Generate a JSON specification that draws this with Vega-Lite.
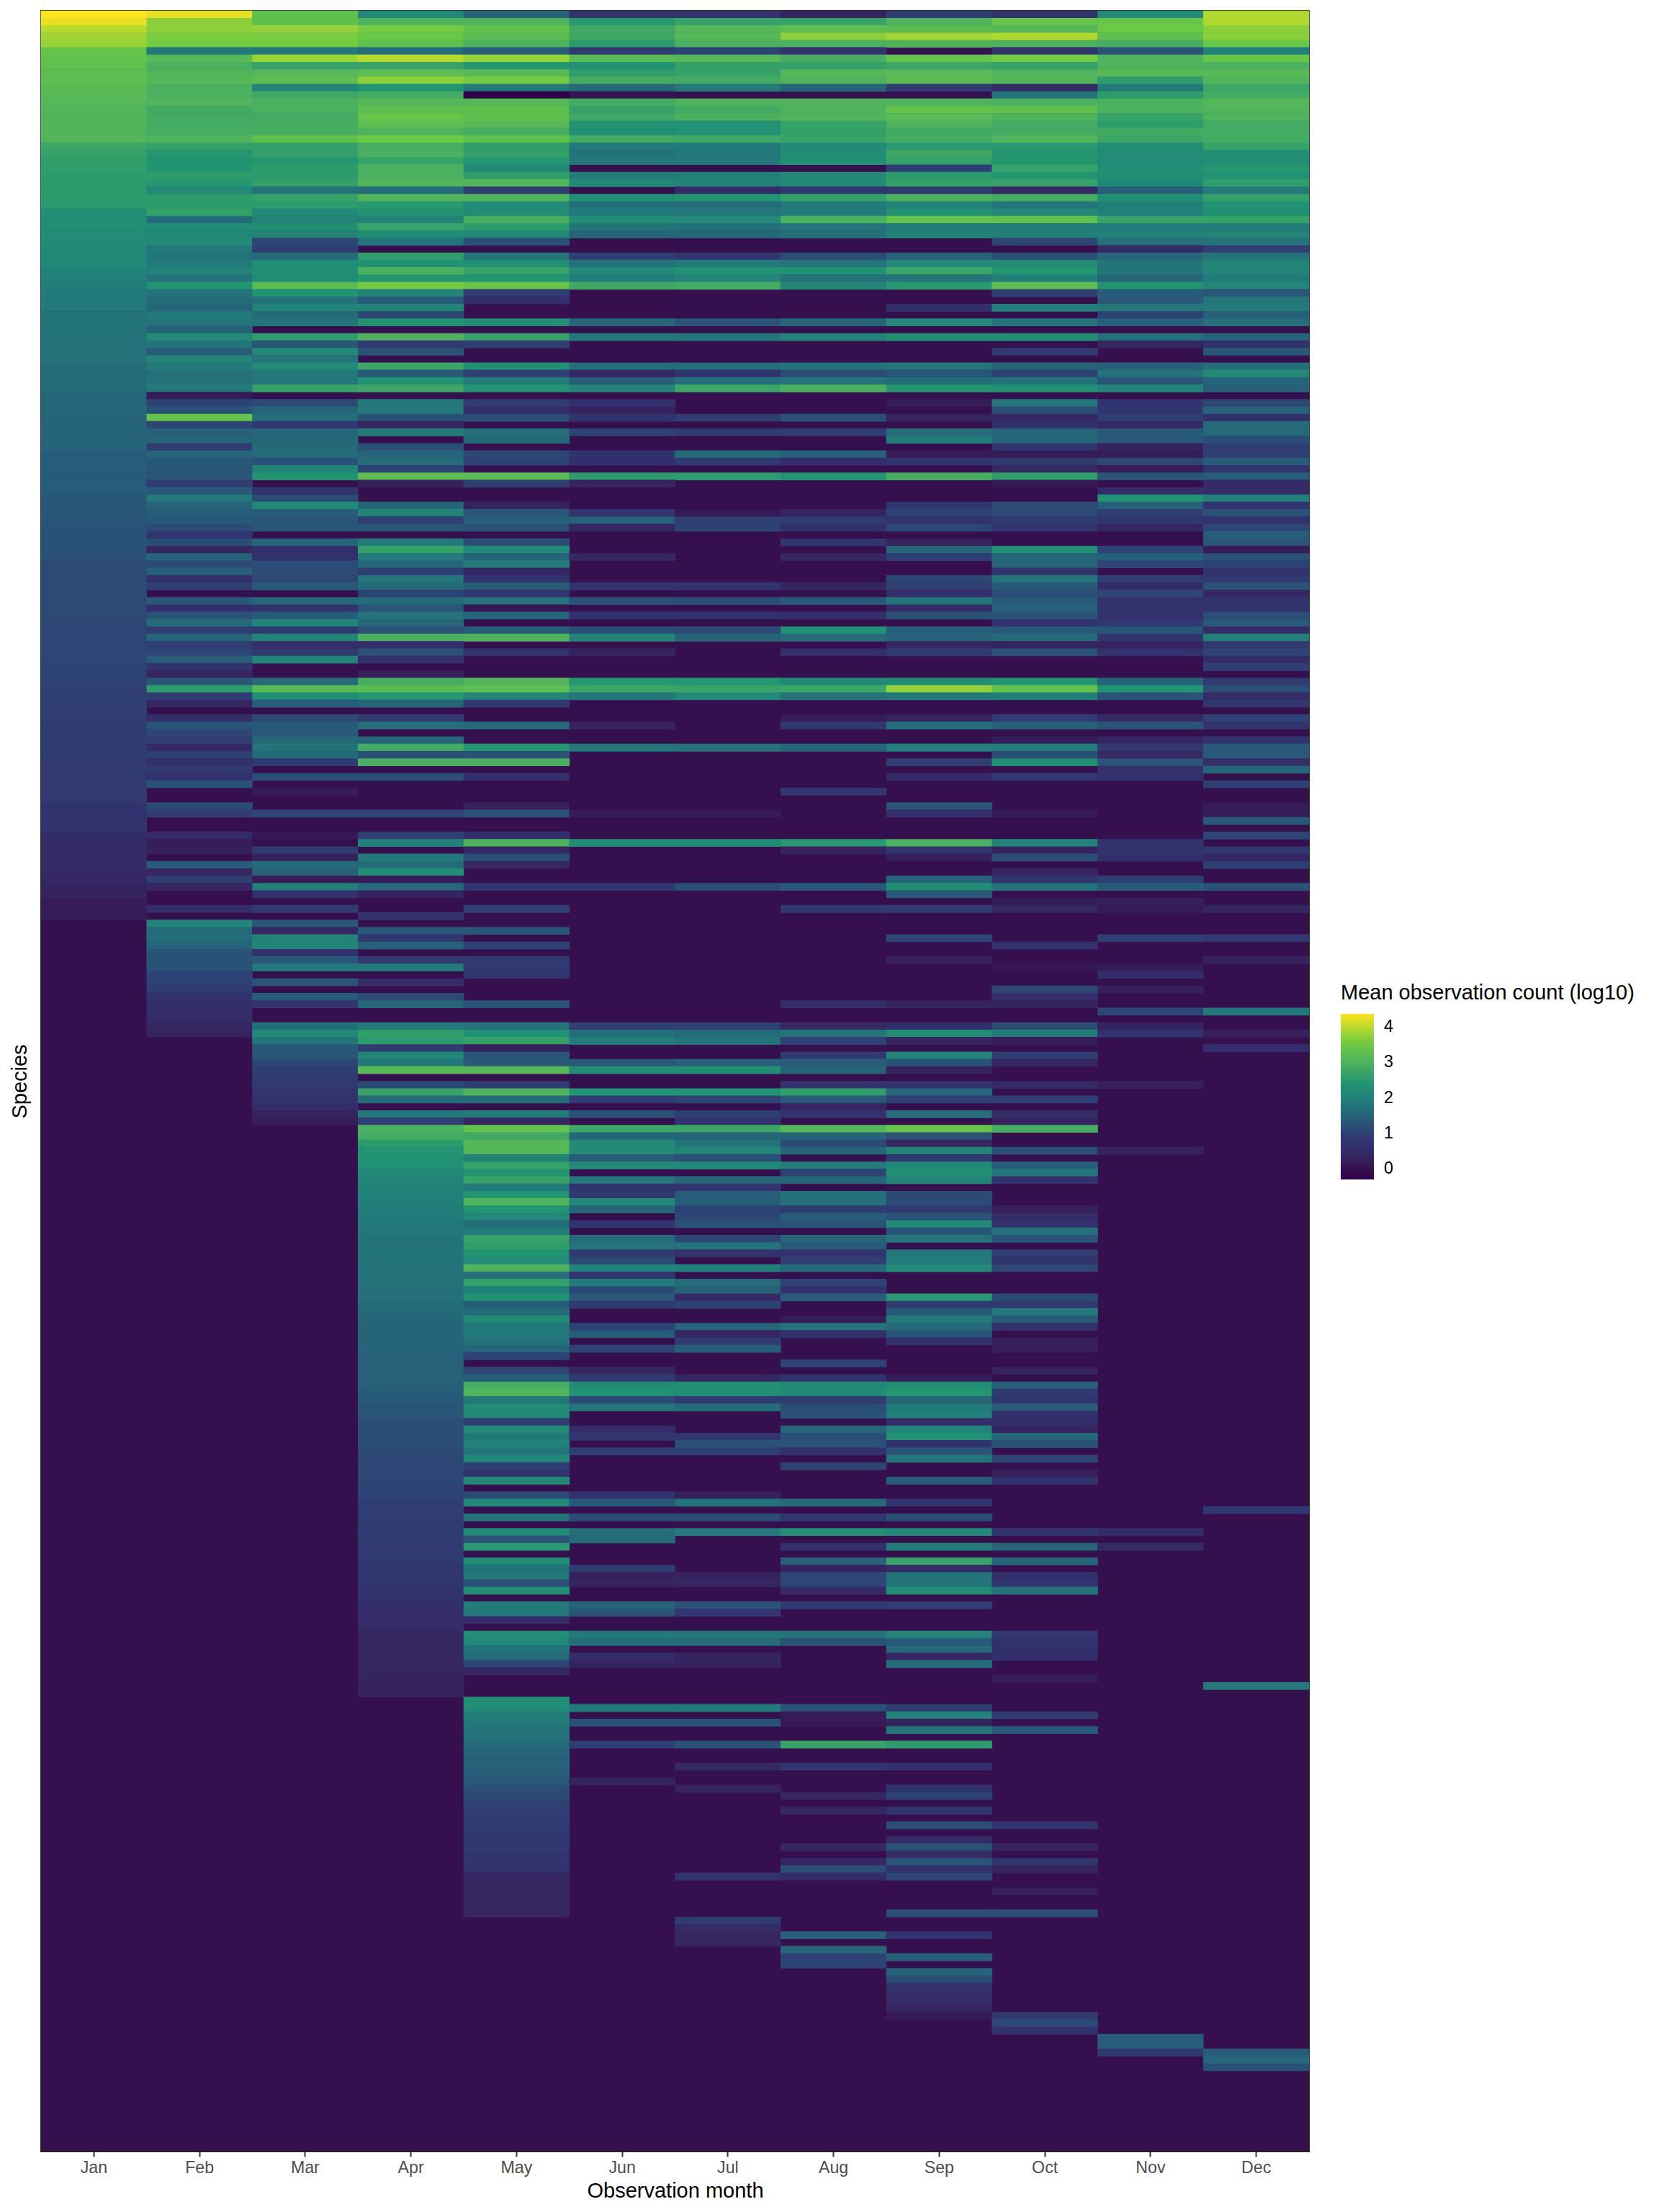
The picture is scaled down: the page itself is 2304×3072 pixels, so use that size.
{"$schema":"https://vega.github.io/schema/vega-lite/v6.json","autosize":{"type":"none"},"width":1761,"height":2973,"padding":{"left":57,"top":15,"right":486,"bottom":84},"background":"white","config":{"font":"Liberation Sans","view":{"fill":"#36104e","stroke":"#222222","strokeWidth":2}},
"data":{"values":[
{"s":1,"Jan":4.37,"Feb":4.25,"Mar":3.3,"Apr":2.15,"May":1.5,"Jun":0.75,"Jul":0.7,"Aug":0.3,"Sep":0.95,"Oct":0.7,"Nov":2.2,"Dec":3.95},
{"s":2,"Jan":4.25,"Feb":3.7,"Mar":3.3,"Apr":3.0,"May":3.0,"Jun":2.5,"Jul":2.7,"Aug":2.7,"Sep":3.0,"Oct":3.4,"Nov":3.4,"Dec":3.95},
{"s":3,"Jan":4.0,"Feb":3.7,"Mar":3.75,"Apr":3.55,"May":3.35,"Jun":2.8,"Jul":3.1,"Aug":3.25,"Sep":3.2,"Oct":3.1,"Nov":3.5,"Dec":3.7},
{"s":4,"Jan":3.85,"Feb":3.6,"Mar":3.6,"Apr":3.45,"May":3.2,"Jun":2.8,"Jul":3.1,"Aug":3.7,"Sep":3.85,"Oct":3.95,"Nov":3.25,"Dec":3.7},
{"s":5,"Jan":3.8,"Feb":3.55,"Mar":3.55,"Apr":3.3,"May":3.0,"Jun":2.55,"Jul":2.95,"Aug":2.95,"Sep":3.0,"Oct":3.0,"Nov":2.9,"Dec":3.45},
{"s":6,"Jan":3.4,"Feb":1.85,"Mar":1.85,"Apr":1.65,"May":1.4,"Jun":0.85,"Jul":1.05,"Aug":0.7,"Oct":0.7,"Nov":1.25,"Dec":2.0},
{"s":7,"Jan":3.35,"Feb":3.15,"Mar":3.8,"Apr":4.0,"May":3.75,"Jun":3.2,"Jul":3.1,"Aug":2.9,"Sep":3.35,"Oct":3.55,"Nov":3.0,"Dec":3.4},
{"s":8,"Jan":3.3,"Feb":2.95,"Mar":2.7,"Apr":2.7,"May":2.45,"Jun":2.35,"Jul":2.65,"Aug":2.65,"Sep":2.75,"Oct":2.7,"Nov":3.0,"Dec":2.95},
{"s":9,"Jan":3.25,"Feb":3.05,"Mar":3.1,"Apr":3.25,"May":3.15,"Jun":2.6,"Jul":2.7,"Aug":3.1,"Sep":3.15,"Oct":3.05,"Nov":3.15,"Dec":3.15},
{"s":10,"Jan":3.25,"Feb":3.1,"Mar":3.25,"Apr":3.7,"May":3.55,"Jun":2.85,"Jul":2.85,"Aug":3.0,"Sep":3.2,"Oct":3.05,"Nov":2.6,"Dec":3.05},
{"s":11,"Jan":3.2,"Feb":2.95,"Mar":2.05,"Apr":2.4,"May":1.9,"Jun":1.6,"Jul":1.9,"Aug":1.5,"Sep":0.9,"Oct":0.5,"Nov":1.85,"Dec":2.75},
{"s":12,"Jan":3.15,"Feb":2.95,"Mar":2.8,"Apr":2.85,"May":-0.3,"Jun":0.05,"Oct":1.8,"Nov":2.55,"Dec":2.85},
{"s":13,"Jan":3.1,"Feb":3.05,"Mar":2.95,"Apr":3.1,"May":3.1,"Jun":2.85,"Jul":3.0,"Aug":3.0,"Sep":3.0,"Oct":2.95,"Nov":2.95,"Dec":3.1},
{"s":14,"Jan":3.05,"Feb":2.85,"Mar":2.95,"Apr":3.25,"May":3.3,"Jun":2.65,"Jul":2.85,"Aug":3.0,"Sep":3.35,"Oct":3.3,"Nov":2.95,"Dec":3.05},
{"s":15,"Jan":3.05,"Feb":2.85,"Mar":2.85,"Apr":3.4,"May":3.3,"Jun":2.8,"Jul":2.95,"Aug":3.05,"Sep":3.15,"Oct":3.0,"Nov":2.7,"Dec":3.0},
{"s":16,"Jan":3.05,"Feb":2.85,"Mar":2.9,"Apr":3.25,"May":3.15,"Jun":2.4,"Jul":2.35,"Aug":2.7,"Sep":3.0,"Oct":2.85,"Nov":2.55,"Dec":2.85},
{"s":17,"Jan":3.05,"Feb":2.9,"Mar":2.9,"Apr":3.0,"May":2.9,"Jun":2.3,"Jul":2.35,"Aug":2.65,"Sep":2.85,"Oct":2.85,"Nov":2.85,"Dec":2.85},
{"s":18,"Jan":3.05,"Feb":3.0,"Mar":3.3,"Apr":3.5,"May":3.3,"Jun":2.85,"Jul":2.8,"Aug":2.7,"Sep":2.85,"Oct":3.05,"Nov":2.75,"Dec":2.85},
{"s":19,"Jan":2.75,"Feb":2.65,"Mar":2.65,"Apr":2.9,"May":2.6,"Jun":1.9,"Jul":1.9,"Aug":2.2,"Sep":2.5,"Oct":2.5,"Nov":2.3,"Dec":2.7},
{"s":20,"Jan":2.7,"Feb":2.45,"Mar":2.65,"Apr":2.95,"May":2.65,"Jun":1.75,"Jul":1.9,"Aug":2.3,"Sep":2.8,"Oct":2.45,"Nov":2.25,"Dec":2.3},
{"s":21,"Jan":2.6,"Feb":2.4,"Mar":2.45,"Apr":2.7,"May":2.45,"Jun":1.85,"Jul":1.85,"Aug":2.3,"Sep":2.65,"Oct":2.45,"Nov":2.2,"Dec":2.25},
{"s":22,"Jan":2.6,"Feb":2.4,"Mar":2.55,"Apr":2.95,"May":2.2,"Sep":1.0,"Oct":2.7,"Nov":2.3,"Dec":2.45},
{"s":23,"Jan":2.55,"Feb":2.6,"Mar":2.55,"Apr":2.95,"May":2.6,"Jun":1.95,"Jul":2.0,"Aug":2.2,"Sep":2.55,"Oct":2.45,"Nov":2.3,"Dec":2.35},
{"s":24,"Jan":2.55,"Feb":2.45,"Mar":2.65,"Apr":3.05,"May":3.05,"Jun":2.15,"Jul":2.05,"Aug":2.2,"Sep":2.65,"Oct":2.7,"Nov":2.15,"Dec":2.6},
{"s":25,"Jan":2.55,"Feb":2.15,"Mar":1.75,"Apr":1.65,"May":0.95,"Jul":0.5,"Aug":0.8,"Sep":0.85,"Oct":0.4,"Nov":1.4,"Dec":1.9},
{"s":26,"Jan":2.55,"Feb":2.55,"Mar":2.7,"Apr":3.05,"May":3.0,"Jun":2.3,"Jul":2.4,"Aug":2.65,"Sep":2.95,"Oct":2.85,"Nov":2.3,"Dec":2.65},
{"s":27,"Jan":2.5,"Feb":2.55,"Mar":2.55,"Apr":2.5,"May":2.2,"Jun":1.7,"Jul":1.65,"Aug":1.85,"Sep":2.05,"Oct":1.8,"Nov":2.0,"Dec":2.35},
{"s":28,"Jan":2.3,"Feb":2.65,"Mar":2.2,"Apr":2.35,"May":2.2,"Jun":1.9,"Jul":1.85,"Aug":1.9,"Sep":2.35,"Oct":2.15,"Nov":2.0,"Dec":2.3},
{"s":29,"Jan":2.3,"Feb":1.65,"Mar":2.1,"Apr":2.05,"May":2.9,"Jun":2.25,"Jul":2.2,"Aug":2.95,"Sep":3.35,"Oct":3.3,"Nov":2.7,"Dec":2.65},
{"s":30,"Jan":2.25,"Feb":2.25,"Mar":2.3,"Apr":2.7,"May":2.55,"Jun":1.8,"Jul":1.7,"Aug":1.8,"Sep":1.95,"Oct":1.95,"Nov":1.9,"Dec":1.95},
{"s":31,"Jan":2.25,"Feb":2.15,"Mar":2.1,"Apr":2.25,"May":2.15,"Jun":1.5,"Jul":1.55,"Aug":1.7,"Sep":2.05,"Oct":2.0,"Nov":2.05,"Dec":2.1},
{"s":32,"Jan":2.2,"Feb":2.2,"Mar":1.1,"Apr":1.8,"May":1.25,"Oct":1.1,"Nov":1.7,"Dec":1.8},
{"s":33,"Jan":2.2,"Feb":1.85,"Mar":1.0,"Nov":0.5,"Dec":1.0},
{"s":34,"Jan":2.15,"Feb":1.8,"Mar":1.65,"Apr":2.6,"May":1.8,"Jun":1.0,"Jul":0.8,"Aug":1.2,"Sep":1.45,"Oct":1.25,"Nov":1.55,"Dec":1.75},
{"s":35,"Jan":2.15,"Feb":1.9,"Mar":2.3,"Apr":2.35,"May":2.3,"Jun":1.75,"Jul":1.85,"Aug":1.75,"Sep":2.15,"Oct":2.2,"Nov":1.8,"Dec":2.05},
{"s":36,"Jan":2.05,"Feb":2.05,"Mar":2.3,"Apr":2.95,"May":2.7,"Jun":2.15,"Jul":2.35,"Aug":2.35,"Sep":2.75,"Oct":2.45,"Nov":1.8,"Dec":2.1},
{"s":37,"Jan":2.0,"Feb":1.8,"Mar":2.25,"Apr":2.45,"May":2.4,"Jun":1.95,"Jul":2.1,"Aug":1.75,"Sep":1.8,"Oct":2.0,"Nov":1.55,"Dec":1.95},
{"s":38,"Jan":1.95,"Feb":2.4,"Mar":3.2,"Apr":3.55,"May":3.4,"Jun":2.8,"Jul":2.85,"Aug":2.1,"Sep":2.5,"Oct":3.25,"Nov":2.4,"Dec":2.1},
{"s":39,"Jan":1.9,"Feb":1.75,"Mar":2.35,"Apr":2.05,"May":0.95,"Oct":1.0,"Nov":1.4,"Dec":1.3},
{"s":40,"Jan":1.85,"Feb":1.6,"Mar":1.75,"Apr":1.35,"May":0.6,"Nov":1.35,"Dec":1.8},
{"s":41,"Jan":1.85,"Feb":1.5,"Mar":2.05,"Apr":2.05,"Sep":0.65,"Oct":2.0,"Nov":1.85,"Dec":1.9},
{"s":42,"Jan":1.8,"Feb":1.9,"Mar":1.6,"Apr":1.1,"Nov":1.05,"Dec":1.45},
{"s":43,"Jan":1.8,"Feb":1.8,"Mar":1.8,"Apr":2.4,"May":2.25,"Jun":1.55,"Jul":1.3,"Aug":1.55,"Sep":2.15,"Oct":1.8,"Nov":1.45,"Dec":1.7},
{"s":44,"Jan":1.8,"Feb":1.45},
{"s":45,"Jan":1.75,"Feb":2.2,"Mar":2.6,"Apr":3.0,"May":2.7,"Jun":1.85,"Jul":1.8,"Aug":2.05,"Sep":2.3,"Oct":2.3,"Nov":1.75,"Dec":1.5},
{"s":46,"Jan":1.75,"Feb":1.8,"Mar":1.3,"Apr":0.9,"May":0.95,"Nov":0.35,"Dec":0.7},
{"s":47,"Jan":1.75,"Feb":1.4,"Mar":2.15,"Apr":1.25,"Oct":0.85,"Dec":1.3},
{"s":48,"Jan":1.75,"Feb":2.1,"Mar":1.75},
{"s":49,"Jan":1.65,"Feb":1.85,"Mar":2.2,"Apr":2.75,"May":2.3,"Jun":1.7,"Jul":1.7,"Aug":1.75,"Sep":1.8,"Oct":1.55,"Nov":1.45,"Dec":1.7},
{"s":50,"Jan":1.65,"Feb":1.7,"Mar":1.85,"Apr":1.35,"May":1.0,"Jun":0.4,"Jul":0.75,"Aug":1.15,"Sep":1.3,"Oct":1.05,"Nov":1.75,"Dec":2.2},
{"s":51,"Jan":1.65,"Feb":1.75,"Mar":1.85,"Apr":2.35,"May":1.95,"Jun":1.4,"Jul":1.7,"Aug":1.75,"Sep":1.65,"Oct":1.75,"Nov":1.3,"Dec":1.5},
{"s":52,"Jan":1.65,"Feb":1.9,"Mar":2.7,"Apr":2.75,"May":2.4,"Jun":2.1,"Jul":2.75,"Aug":2.95,"Sep":2.45,"Oct":2.35,"Nov":2.1,"Dec":1.45},
{"s":53,"Jan":1.55,"Feb":0.2},
{"s":54,"Jan":1.55,"Feb":1.05,"Mar":1.15,"Apr":1.85,"May":0.95,"Jun":0.65,"Sep":0.2,"Oct":1.8,"Nov":0.75,"Dec":1.1},
{"s":55,"Jan":1.55,"Feb":1.25,"Mar":1.55,"Apr":1.85,"May":0.55,"Jun":0.3,"Oct":1.2,"Nov":0.8,"Dec":1.5},
{"s":56,"Jan":1.5,"Feb":3.4,"Mar":1.7,"Apr":1.25,"May":1.2,"Jun":0.7,"Jul":0.95,"Aug":1.25,"Sep":0.3,"Oct":0.4,"Nov":1.0,"Dec":0.6},
{"s":57,"Jan":1.5,"Feb":1.1,"Mar":0.8,"Apr":0.4,"Oct":0.65,"Nov":0.45,"Dec":1.6},
{"s":58,"Jan":1.5,"Feb":1.45,"Mar":1.55,"Apr":1.95,"May":1.7,"Jun":1.05,"Jul":0.9,"Aug":0.95,"Sep":1.65,"Oct":1.55,"Nov":1.35,"Dec":1.6},
{"s":59,"Jan":1.5,"Feb":1.5,"Mar":1.55,"May":1.6,"Sep":1.95,"Oct":1.55,"Nov":1.35,"Dec":1.2},
{"s":60,"Jan":1.5,"Feb":0.95,"Mar":1.6,"Apr":1.2,"Oct":0.8,"Nov":0.3,"Dec":0.95},
{"s":61,"Jan":1.4,"Feb":1.5,"Mar":1.65,"Apr":1.5,"May":1.1,"Jun":0.7,"Jul":1.65,"Aug":1.45,"Sep":0.2,"Oct":0.2,"Nov":0.2,"Dec":1.0},
{"s":62,"Jan":1.4,"Feb":1.35,"Mar":1.25,"Apr":1.65,"May":1.05,"Jun":0.6,"Jul":0.85,"Aug":0.55,"Sep":0.8,"Oct":0.85,"Nov":1.1,"Dec":1.4},
{"s":63,"Jan":1.4,"Feb":1.3,"Mar":2.1,"Apr":1.05,"Oct":0.45,"Nov":0.2,"Dec":0.75},
{"s":64,"Jan":1.4,"Feb":1.3,"Mar":2.4,"Apr":3.25,"May":3.2,"Jun":2.55,"Jul":2.55,"Aug":2.4,"Sep":2.9,"Oct":2.6,"Nov":1.3,"Dec":1.4},
{"s":65,"Jan":1.4,"Feb":0.95,"Apr":0.25,"May":1.0,"Jun":0.3,"Oct":0.15,"Dec":0.45},
{"s":66,"Jan":1.4,"Feb":1.35,"Mar":0.7,"Nov":0.5,"Dec":0.55},
{"s":67,"Jan":1.3,"Feb":1.85,"Mar":1.15,"Nov":2.35,"Dec":2.0},
{"s":68,"Jan":1.3,"Feb":1.5,"Mar":2.2,"Apr":1.55,"May":0.3,"Sep":0.75,"Oct":1.15,"Nov":1.45,"Dec":0.7},
{"s":69,"Jan":1.3,"Feb":1.4,"Mar":1.4,"Apr":2.1,"May":1.3,"Jun":0.75,"Jul":0.15,"Aug":0.3,"Sep":1.05,"Oct":1.15,"Nov":0.95,"Dec":1.25},
{"s":70,"Jan":1.3,"Feb":1.35,"Mar":1.3,"Apr":1.0,"May":1.45,"Jun":1.45,"Jul":1.0,"Aug":0.9,"Sep":0.7,"Oct":0.9,"Nov":0.85,"Dec":0.7},
{"s":71,"Jan":1.25,"Feb":1.15,"Mar":1.3,"Apr":1.3,"May":1.25,"Jun":0.4,"Jul":1.05,"Aug":0.65,"Sep":1.1,"Oct":0.75,"Nov":0.35,"Dec":1.1},
{"s":72,"Jan":1.25,"Feb":0.8,"Dec":1.4},
{"s":73,"Jan":1.25,"Feb":1.2,"Mar":1.55,"Apr":1.95,"May":1.2,"Aug":0.8,"Sep":0.3,"Dec":1.3},
{"s":74,"Jan":1.25,"Feb":0.4,"Mar":0.6,"Apr":2.65,"May":2.15,"Sep":1.5,"Oct":2.3,"Nov":1.05,"Dec":0.2},
{"s":75,"Jan":1.25,"Feb":1.5,"Mar":0.65,"Apr":1.9,"May":1.5,"Jun":0.4,"Aug":0.35,"Sep":1.0,"Oct":1.55,"Nov":1.45,"Dec":1.25},
{"s":76,"Jan":1.15,"Feb":1.15,"Mar":1.2,"Apr":1.55,"May":1.95,"Oct":1.5,"Nov":1.1,"Dec":1.05},
{"s":77,"Jan":1.15,"Feb":1.45,"Mar":1.15,"Apr":0.95,"May":0.4,"Oct":0.75,"Dec":0.7},
{"s":78,"Jan":1.15,"Feb":0.6,"Mar":1.1,"Apr":1.8,"May":0.75,"Sep":1.1,"Oct":1.8,"Nov":1.0,"Dec":0.85},
{"s":79,"Jan":1.15,"Feb":1.0,"Mar":1.35,"Apr":1.65,"May":1.4,"Jun":0.7,"Jul":0.7,"Aug":0.35,"Sep":1.0,"Oct":1.35,"Nov":0.55,"Dec":1.25},
{"s":80,"Jan":1.15,"Apr":1.05,"May":0.8,"Sep":0.6,"Oct":1.2,"Nov":1.1,"Dec":0.4},
{"s":81,"Jan":1.15,"Feb":1.35,"Mar":1.55,"Apr":1.6,"May":1.75,"Jun":1.25,"Jul":1.2,"Aug":1.35,"Sep":1.8,"Oct":1.35,"Nov":0.7,"Dec":0.75},
{"s":82,"Jan":1.15,"Feb":0.6,"Mar":0.7,"Apr":1.3,"May":0.1,"Sep":0.55,"Oct":1.45,"Nov":0.7,"Dec":0.7},
{"s":83,"Jan":1.15,"Feb":1.25,"Mar":1.35,"Apr":1.75,"May":1.5,"Jun":0.7,"Jul":0.7,"Aug":0.6,"Sep":1.25,"Oct":1.25,"Nov":0.7,"Dec":1.2},
{"s":84,"Jan":1.1,"Feb":1.6,"Mar":2.1,"Apr":1.55,"Oct":0.7,"Nov":0.85,"Dec":1.35},
{"s":85,"Jan":1.1,"Feb":0.95,"Mar":0.85,"Apr":1.25,"May":1.4,"Jun":1.2,"Jul":1.15,"Aug":2.35,"Sep":1.45,"Oct":1.35,"Nov":1.3,"Dec":0.5},
{"s":86,"Jan":1.1,"Feb":1.5,"Mar":2.1,"Apr":2.95,"May":3.0,"Jun":2.1,"Jul":1.5,"Aug":1.6,"Sep":1.45,"Oct":1.6,"Nov":0.8,"Dec":2.0},
{"s":87,"Jan":1.1,"Feb":0.95,"Mar":0.6,"Apr":0.6,"Sep":0.4,"Oct":0.3,"Nov":0.3,"Dec":0.85},
{"s":88,"Jan":1.1,"Feb":1.1,"Mar":0.85,"Apr":1.25,"May":0.75,"Jun":0.3,"Aug":0.6,"Sep":0.95,"Oct":1.25,"Nov":0.7,"Dec":1.1},
{"s":89,"Jan":1.1,"Feb":1.4,"Mar":2.1,"Apr":0.6,"Dec":0.5},
{"s":90,"Jan":1.05,"Feb":0.7,"Dec":1.0},
{"s":91,"Jan":1.05,"Feb":0.35,"Apr":0.25},
{"s":92,"Jan":1.05,"Feb":1.3,"Mar":1.6,"Apr":2.9,"May":3.05,"Jun":2.45,"Jul":2.45,"Aug":2.2,"Sep":2.25,"Oct":2.4,"Nov":1.5,"Dec":0.85},
{"s":93,"Jan":1.0,"Feb":2.55,"Mar":3.15,"Apr":3.2,"May":3.25,"Jun":2.75,"Jul":2.7,"Aug":2.75,"Sep":3.75,"Oct":3.35,"Nov":2.4,"Dec":1.2},
{"s":94,"Jan":1.0,"Feb":0.95,"Mar":2.25,"Apr":2.45,"May":2.1,"Jun":1.85,"Jul":2.15,"Aug":1.75,"Sep":1.9,"Oct":2.0,"Nov":1.25,"Dec":0.5},
{"s":95,"Jan":1.0,"Feb":0.4,"Mar":1.4,"Apr":1.5,"May":0.85,"Dec":0.8},
{"s":96,"Jan":0.95},
{"s":97,"Jan":0.95,"Feb":0.55,"Mar":1.15,"Apr":0.9,"Aug":0.2,"Sep":0.3,"Oct":1.0,"Nov":0.45,"Dec":1.05},
{"s":98,"Jan":0.9,"Feb":1.3,"Mar":1.35,"Apr":1.7,"May":1.6,"Jun":0.3,"Aug":0.85,"Sep":1.7,"Oct":1.45,"Nov":1.3,"Dec":0.75},
{"s":99,"Jan":0.9,"Feb":1.1,"Mar":1.35},
{"s":100,"Jan":0.9,"Feb":1.0,"Mar":1.6,"Apr":1.55,"Oct":0.2,"Nov":0.4,"Dec":0.75},
{"s":101,"Jan":0.9,"Feb":0.45,"Mar":1.75,"Apr":2.85,"May":2.45,"Jun":1.85,"Jul":1.75,"Aug":1.55,"Sep":2.0,"Oct":1.95,"Nov":0.85,"Dec":1.35},
{"s":102,"Jan":0.9,"Feb":1.0,"Mar":1.6,"Apr":1.2,"May":1.25,"Oct":1.2,"Nov":0.45,"Dec":1.35},
{"s":103,"Jan":0.85,"Feb":0.6,"Mar":0.9,"Apr":2.95,"May":2.95,"Sep":1.0,"Oct":2.3,"Nov":1.3,"Dec":0.55},
{"s":104,"Jan":0.85,"Feb":0.85,"Nov":0.65,"Dec":1.5},
{"s":105,"Jan":0.85,"Feb":0.7,"Mar":1.2,"Apr":1.2,"May":0.6,"Sep":0.5,"Oct":0.85,"Nov":0.65},
{"s":106,"Jan":0.85,"Feb":1.25,"Dec":1.0},
{"s":107,"Jan":0.85,"Mar":0.2,"Aug":0.8},
{"s":108,"Jan":0.85},
{"s":109,"Jan":0.7,"Feb":1.15,"May":0.25,"Sep":1.3,"Dec":0.2},
{"s":110,"Jan":0.7,"Feb":0.95,"Mar":1.1,"Apr":1.1,"May":1.25,"Jun":0.2,"Jul":0.2,"Sep":0.6,"Oct":0.2,"Dec":0.2},
{"s":111,"Jan":0.7,"Dec":1.35},
{"s":112,"Jan":0.7},
{"s":113,"Jan":0.55,"Feb":0.5,"Mar":0.15,"Apr":1.0,"May":0.6,"Dec":1.1},
{"s":114,"Jan":0.5,"Feb":0.2,"Apr":2.0,"May":3.0,"Jun":2.25,"Jul":2.25,"Aug":2.5,"Sep":2.95,"Oct":2.05,"Nov":0.7},
{"s":115,"Jan":0.5,"Feb":0.25,"Mar":0.9,"May":0.4,"Aug":0.3,"Sep":0.8,"Oct":0.3,"Nov":0.7,"Dec":0.8},
{"s":116,"Jan":0.5,"Mar":0.25,"Apr":1.85,"May":1.2,"Sep":0.25,"Oct":1.2,"Nov":0.6,"Dec":0.4},
{"s":117,"Jan":0.5,"Feb":1.4,"Mar":1.6,"Apr":1.65,"May":0.35,"Dec":1.0},
{"s":118,"Jan":0.45,"Feb":0.35,"Mar":1.45,"Apr":2.3,"Oct":0.4},
{"s":119,"Jan":0.4,"Feb":1.0,"Mar":0.2,"Apr":0.2,"Sep":1.5,"Oct":0.7,"Nov":1.0},
{"s":120,"Jan":0.3,"Feb":0.35,"Mar":2.0,"Apr":1.6,"May":0.8,"Jun":0.8,"Jul":1.2,"Aug":1.35,"Sep":2.25,"Oct":1.75,"Nov":1.4,"Dec":1.25},
{"s":121,"Jan":0.3,"Mar":0.65,"Apr":0.3,"Sep":1.35},
{"s":122,"Jan":0.2,"Oct":0.2,"Nov":0.25},
{"s":123,"Jan":0.2,"Feb":0.55,"Mar":0.9,"May":1.0,"Aug":0.85,"Sep":0.9,"Oct":0.4,"Nov":0.2,"Dec":0.4},
{"s":124,"Jan":0.2,"Apr":0.7},
{"s":125,"Feb":2.1,"Mar":1.3},
{"s":126,"Feb":1.6,"Mar":0.4,"Apr":1.35,"May":1.3},
{"s":127,"Feb":1.65,"Mar":2.05,"Apr":0.8,"Sep":1.1,"Nov":1.0,"Dec":0.85},
{"s":128,"Feb":1.5,"Mar":2.1,"Apr":1.45,"May":1.05,"Oct":0.65},
{"s":129,"Feb":1.25,"Mar":0.65},
{"s":130,"Feb":1.25,"Mar":1.35,"Apr":0.85,"May":0.85,"Sep":0.25,"Dec":0.3},
{"s":131,"Feb":1.25,"Mar":1.85,"Apr":1.9,"May":0.85,"Oct":0.1,"Nov":0.2},
{"s":132,"Feb":1.05,"May":0.8,"Nov":0.55},
{"s":133,"Feb":1.05,"Mar":1.3,"Apr":0.55},
{"s":134,"Feb":0.9,"Oct":1.1,"Nov":0.25},
{"s":135,"Feb":0.7,"Mar":1.4,"Apr":1.15,"Oct":0.6},
{"s":136,"Feb":0.6,"Mar":0.75,"Apr":1.55,"May":1.25,"Aug":0.55,"Sep":0.3,"Oct":0.3},
{"s":137,"Feb":0.55,"Nov":1.1,"Dec":1.85},
{"s":138,"Feb":0.55},
{"s":139,"Feb":0.4,"Mar":1.7,"Apr":1.9,"May":1.75,"Jun":1.0,"Jul":1.0,"Aug":0.45,"Sep":0.6,"Oct":1.2,"Nov":0.3},
{"s":140,"Feb":0.3,"Mar":2.15,"Apr":2.6,"May":2.3,"Jun":1.7,"Jul":1.6,"Aug":1.8,"Sep":2.3,"Oct":1.95,"Nov":0.75,"Dec":0.25},
{"s":141,"Mar":1.8,"Apr":2.55,"May":2.65,"Jun":1.95,"Jul":1.8,"Aug":1.05,"Sep":0.3,"Oct":0.2},
{"s":142,"Mar":1.35,"Apr":0.9,"May":0.25,"Dec":0.6},
{"s":143,"Mar":1.3,"Apr":2.1,"May":1.3,"Aug":0.85,"Sep":2.05,"Oct":0.95},
{"s":144,"Mar":1.1,"Apr":1.85,"May":1.35,"Jun":1.35,"Jul":1.45,"Aug":1.4,"Sep":1.25,"Oct":0.4},
{"s":145,"Mar":0.95,"Apr":3.15,"May":3.1,"Jun":2.3,"Jul":2.3,"Aug":1.5,"Sep":0.3},
{"s":146,"Mar":0.9},
{"s":147,"Mar":0.85,"Apr":1.15,"May":0.95,"Aug":0.75,"Sep":0.7,"Oct":0.5,"Nov":0.25},
{"s":148,"Mar":0.75,"Apr":2.7,"May":3.0,"Jun":2.4,"Jul":2.4,"Aug":2.6,"Sep":1.55},
{"s":149,"Mar":0.7,"Apr":1.65,"May":1.65,"Jun":0.9,"Jul":1.05,"Aug":1.35,"Sep":1.0,"Oct":1.0},
{"s":150,"Mar":0.55,"Aug":0.35},
{"s":151,"Mar":0.3,"Apr":1.9,"May":1.95,"Jun":1.25,"Jul":1.0,"Aug":0.7,"Sep":1.7,"Oct":0.55},
{"s":152,"Mar":0.2,"Apr":1.0,"May":0.35,"Jul":0.75,"Oct":0.3},
{"s":153,"Apr":2.95,"May":3.35,"Jun":2.75,"Jul":2.75,"Aug":3.1,"Sep":3.4,"Oct":2.9},
{"s":154,"Apr":2.85,"May":2.8,"Jun":1.55,"Jul":1.5,"Aug":1.5,"Sep":1.25},
{"s":155,"Apr":2.55,"May":3.1,"Jun":2.2,"Jul":1.8,"Aug":1.15,"Sep":0.35},
{"s":156,"Apr":2.4,"May":3.1,"Jun":2.2,"Jul":2.1,"Aug":1.5,"Sep":2.1,"Oct":1.2,"Nov":0.3},
{"s":157,"Apr":2.35,"May":2.05,"Jun":1.4,"Jul":1.2,"Sep":0.85},
{"s":158,"Apr":2.35,"May":2.7,"Jun":2.2,"Jul":2.15,"Aug":1.95,"Sep":2.15,"Oct":1.4},
{"s":159,"Apr":2.15,"May":2.4,"Aug":1.05,"Sep":2.3,"Oct":1.85},
{"s":160,"Apr":2.1,"May":2.7,"Jun":1.85,"Jul":1.55,"Aug":1.55,"Sep":2.1,"Oct":0.7},
{"s":161,"Apr":2.05,"May":1.9,"Jun":0.7,"Jul":0.75},
{"s":162,"Apr":2.0,"May":2.4,"Jun":0.85,"Jul":1.4,"Aug":1.7,"Sep":1.15},
{"s":163,"Apr":2.0,"May":3.05,"Jun":2.15,"Jul":1.4,"Aug":1.7,"Sep":1.15},
{"s":164,"Apr":1.95,"May":2.4,"Jun":1.55,"Jul":1.05,"Aug":0.9,"Sep":0.9,"Oct":0.25},
{"s":165,"Apr":1.9,"May":2.15,"Jul":1.1,"Aug":1.4,"Sep":1.25,"Oct":0.55},
{"s":166,"Apr":1.85,"May":1.65,"Jun":0.75,"Jul":1.25,"Aug":1.25,"Sep":2.15,"Oct":0.7},
{"s":167,"Apr":1.85,"May":1.9,"Sep":1.3,"Oct":1.7},
{"s":168,"Apr":1.8,"May":2.7,"Jun":1.65,"Jul":1.1,"Aug":1.55,"Sep":1.8,"Oct":1.25},
{"s":169,"Apr":1.8,"May":2.6,"Jun":1.75,"Jul":1.8,"Aug":1.35},
{"s":170,"Apr":1.8,"May":2.4,"Jun":0.85,"Jul":0.7,"Aug":0.7,"Sep":1.85,"Oct":1.0},
{"s":171,"Apr":1.8,"May":2.2,"Jun":1.15,"Aug":1.0,"Sep":1.9,"Oct":0.7},
{"s":172,"Apr":1.75,"May":3.0,"Jun":2.05,"Jul":2.0,"Aug":1.6,"Sep":2.2,"Oct":1.1},
{"s":173,"Apr":1.75,"May":1.7,"Jun":0.75},
{"s":174,"Apr":1.75,"May":2.65,"Jun":1.95,"Jul":1.65,"Aug":1.05},
{"s":175,"Apr":1.7,"May":2.0,"Jun":1.15,"Jul":1.45,"Aug":0.65},
{"s":176,"Apr":1.7,"May":2.35,"Jun":1.35,"Jul":0.45,"Aug":1.4,"Sep":2.5,"Oct":1.15},
{"s":177,"Apr":1.65,"May":1.4,"Jun":0.85,"Jul":1.05,"Sep":0.9,"Oct":0.85},
{"s":178,"Apr":1.6,"May":1.65,"Sep":1.35,"Oct":1.85},
{"s":179,"Apr":1.55,"May":2.25,"Aug":0.2,"Sep":1.85,"Oct":1.35},
{"s":180,"Apr":1.5,"May":1.85,"Jun":1.05,"Jul":1.5,"Aug":1.8,"Sep":1.6,"Oct":0.65},
{"s":181,"Apr":1.5,"May":1.9,"Jun":1.4,"Jul":0.35,"Aug":0.65,"Sep":1.3},
{"s":182,"Apr":1.5,"May":1.75,"Jul":0.95,"Sep":0.7,"Oct":0.25},
{"s":183,"Apr":1.5,"May":1.55,"Jun":1.05,"Jul":1.4,"Oct":0.25},
{"s":184,"Apr":1.45,"May":1.05},
{"s":185,"Apr":1.45,"Aug":1.05},
{"s":186,"Apr":1.45,"May":1.1,"Jun":0.35,"Oct":0.3},
{"s":187,"Apr":1.45,"May":1.4,"Jun":0.85,"Jul":0.35,"Aug":0.75,"Sep":0.2},
{"s":188,"Apr":1.45,"May":2.9,"Jun":2.25,"Jul":2.3,"Aug":2.15,"Sep":2.25,"Oct":1.45},
{"s":189,"Apr":1.4,"May":3.05,"Jun":2.35,"Jul":2.25,"Aug":2.2,"Sep":2.45,"Oct":0.85},
{"s":190,"Apr":1.35,"May":1.85,"Jun":1.15,"Jul":0.9,"Aug":0.9,"Sep":1.55,"Oct":0.8},
{"s":191,"Apr":1.3,"May":2.25,"Jun":1.8,"Jul":1.65,"Aug":1.2,"Sep":1.9,"Oct":1.4},
{"s":192,"Apr":1.3,"May":2.15,"Aug":1.25,"Sep":2.0,"Oct":0.65},
{"s":193,"Apr":1.2,"May":0.95,"Sep":0.55,"Oct":0.6},
{"s":194,"Apr":1.2,"May":2.2,"Jun":0.5,"Aug":1.55,"Sep":2.05,"Oct":0.3},
{"s":195,"Apr":1.2,"May":1.85,"Jun":0.8,"Jul":0.8,"Aug":1.2,"Sep":2.35,"Oct":1.55},
{"s":196,"Apr":1.2,"May":2.0,"Jul":1.25,"Aug":1.25,"Sep":0.7,"Oct":1.25},
{"s":197,"Apr":1.15,"May":1.8,"Jun":1.0,"Jul":1.0,"Aug":0.65,"Sep":1.3},
{"s":198,"Apr":1.1,"May":2.15,"Sep":1.8,"Oct":1.1},
{"s":199,"Apr":1.1,"May":1.0,"Aug":1.05},
{"s":200,"Apr":1.1,"May":0.75,"Oct":0.25},
{"s":201,"Apr":1.1,"May":2.15,"Sep":1.4,"Oct":0.7},
{"s":202,"Apr":1.05},
{"s":203,"Apr":1.05,"May":1.15,"Jun":0.7,"Jul":0.25},
{"s":204,"Apr":0.95,"May":2.15,"Jun":1.35,"Jul":1.8,"Aug":1.65,"Sep":0.8},
{"s":205,"Apr":0.95,"Dec":0.85},
{"s":206,"Apr":0.95,"May":1.8,"Jun":1.15,"Jul":1.15,"Aug":0.8,"Sep":1.2},
{"s":207,"Apr":0.9},
{"s":208,"Apr":0.9,"May":2.25,"Jun":1.7,"Jul":1.9,"Aug":2.3,"Sep":2.15,"Oct":0.75,"Nov":0.55},
{"s":209,"Apr":0.9,"May":1.25,"Jun":1.65},
{"s":210,"Apr":0.85,"May":2.5,"Aug":0.6,"Sep":1.95,"Oct":1.5,"Nov":0.45},
{"s":211,"Apr":0.85},
{"s":212,"Apr":0.85,"May":2.25,"Aug":1.45,"Sep":2.7,"Oct":1.5},
{"s":213,"Apr":0.8,"May":1.75,"Jun":0.95,"Aug":0.3,"Sep":0.5},
{"s":214,"Apr":0.8,"May":1.85,"Jun":0.25,"Jul":0.3,"Aug":1.1,"Sep":1.75,"Oct":0.6},
{"s":215,"Apr":0.8,"May":1.2,"Jun":0.3,"Jul":0.35,"Aug":1.1,"Sep":1.8,"Oct":0.75},
{"s":216,"Apr":0.7,"May":2.25,"Aug":0.45,"Sep":2.25,"Oct":1.75},
{"s":217,"Apr":0.7},
{"s":218,"Apr":0.6,"May":1.95,"Jun":1.5,"Jul":1.25,"Aug":0.9,"Sep":1.0},
{"s":219,"Apr":0.55,"May":1.85,"Jun":1.3,"Jul":0.8},
{"s":220,"Apr":0.55,"May":0.5},
{"s":221,"Apr":0.55},
{"s":222,"Apr":0.35,"May":2.3,"Jun":1.85,"Jul":1.85,"Aug":1.8,"Sep":2.1,"Oct":0.8},
{"s":223,"Apr":0.35,"May":2.15,"Jun":1.7,"Jul":1.6,"Aug":1.25,"Sep":1.35,"Oct":0.65},
{"s":224,"Apr":0.35,"May":1.8,"Sep":1.6,"Oct":0.65},
{"s":225,"Apr":0.35,"May":1.6,"Jun":0.55,"Jul":0.3,"Sep":0.4,"Oct":0.6},
{"s":226,"Apr":0.35,"May":1.1,"Jun":0.3,"Jul":0.3,"Sep":1.7},
{"s":227,"Apr":0.35,"May":0.4},
{"s":228,"Apr":0.3,"Oct":0.2},
{"s":229,"Apr":0.3,"Dec":1.85},
{"s":230,"Apr":0.3},
{"s":231,"May":2.3},
{"s":232,"May":2.25,"Jun":1.9,"Jul":1.9,"Aug":1.25,"Sep":0.95},
{"s":233,"May":1.95,"Aug":0.2,"Sep":2.05,"Oct":0.9},
{"s":234,"May":1.85,"Jun":1.25,"Jul":1.25,"Aug":0.15,"Sep":0.3},
{"s":235,"May":1.8,"Sep":1.8,"Oct":1.35},
{"s":236,"May":1.75},
{"s":237,"May":1.6,"Jun":1.0,"Jul":1.25,"Aug":2.7,"Sep":2.55},
{"s":238,"May":1.5},
{"s":239,"May":1.45},
{"s":240,"May":1.45,"Jul":0.45,"Aug":0.8,"Sep":0.65},
{"s":241,"May":1.4},
{"s":242,"May":1.35,"Jun":0.3},
{"s":243,"May":1.2,"Jul":0.3,"Sep":0.7},
{"s":244,"May":1.15,"Aug":0.4,"Sep":1.05},
{"s":245,"May":1.05},
{"s":246,"May":1.0,"Aug":0.35,"Sep":0.75},
{"s":247,"May":0.9},
{"s":248,"May":0.9,"Sep":1.2,"Oct":0.8},
{"s":249,"May":0.85},
{"s":250,"May":0.8,"Sep":0.5},
{"s":251,"May":0.85,"Aug":0.4,"Sep":1.25,"Oct":0.3},
{"s":252,"May":0.75,"Sep":0.5},
{"s":253,"May":0.75,"Aug":0.4,"Sep":1.3,"Oct":0.8},
{"s":254,"May":0.7,"Aug":1.2,"Sep":0.65,"Oct":0.3},
{"s":255,"May":0.4,"Jul":0.75,"Aug":0.5,"Sep":1.1},
{"s":256,"May":0.35},
{"s":257,"May":0.35,"Oct":0.25},
{"s":258,"May":0.35},
{"s":259,"May":0.35},
{"s":260,"May":0.35,"Sep":1.2,"Oct":1.2},
{"s":261,"Jul":0.95},
{"s":262,"Jul":0.5},
{"s":263,"Jul":0.35,"Aug":1.45,"Sep":0.75},
{"s":264,"Jul":0.35},
{"s":265,"Aug":1.55},
{"s":266,"Aug":1.05,"Sep":1.4},
{"s":267,"Aug":1.05},
{"s":268,"Sep":1.5},
{"s":269,"Sep":1.2},
{"s":270,"Sep":0.7},
{"s":271,"Sep":0.55},
{"s":272,"Sep":0.5},
{"s":273,"Sep":0.35},
{"s":274,"Sep":0.15,"Oct":0.85},
{"s":275,"Oct":1.15},
{"s":276,"Oct":0.7},
{"s":277,"Nov":1.4},
{"s":278,"Nov":1.4},
{"s":279,"Nov":0.85,"Dec":1.4},
{"s":280,"Dec":1.55},
{"s":281,"Dec":1.25},
{"s":282},{"s":283},{"s":284},{"s":285},{"s":286},{"s":287},{"s":288},{"s":289},{"s":290},{"s":291},{"s":292}
]},
"transform":[{"fold":["Jan","Feb","Mar","Apr","May","Jun","Jul","Aug","Sep","Oct","Nov","Dec"],"as":["month","v"]},{"filter":"isValid(datum.v)"}],
"mark":{"type":"rect","height":{"band":1.06},"width":{"band":1.004}},
"encoding":{
"x":{"field":"month","type":"nominal","sort":["Jan","Feb","Mar","Apr","May","Jun","Jul","Aug","Sep","Oct","Nov","Dec"],"scale":{"paddingInner":0,"paddingOuter":0},"axis":{"title":"Observation month","labelAngle":0,"labelFontSize":23.2,"labelColor":"#4d4d4d","tickColor":"#333333","tickSize":7,"tickWidth":2,"domain":false,"grid":false,"labelPadding":4,"titleFontSize":29,"titleFontWeight":"normal","titleColor":"black","titlePadding":7}},
"y":{"field":"s","type":"ordinal","scale":{"paddingInner":0,"paddingOuter":0,"domain":[1,2,3,4,5,6,7,8,9,10,11,12,13,14,15,16,17,18,19,20,21,22,23,24,25,26,27,28,29,30,31,32,33,34,35,36,37,38,39,40,41,42,43,44,45,46,47,48,49,50,51,52,53,54,55,56,57,58,59,60,61,62,63,64,65,66,67,68,69,70,71,72,73,74,75,76,77,78,79,80,81,82,83,84,85,86,87,88,89,90,91,92,93,94,95,96,97,98,99,100,101,102,103,104,105,106,107,108,109,110,111,112,113,114,115,116,117,118,119,120,121,122,123,124,125,126,127,128,129,130,131,132,133,134,135,136,137,138,139,140,141,142,143,144,145,146,147,148,149,150,151,152,153,154,155,156,157,158,159,160,161,162,163,164,165,166,167,168,169,170,171,172,173,174,175,176,177,178,179,180,181,182,183,184,185,186,187,188,189,190,191,192,193,194,195,196,197,198,199,200,201,202,203,204,205,206,207,208,209,210,211,212,213,214,215,216,217,218,219,220,221,222,223,224,225,226,227,228,229,230,231,232,233,234,235,236,237,238,239,240,241,242,243,244,245,246,247,248,249,250,251,252,253,254,255,256,257,258,259,260,261,262,263,264,265,266,267,268,269,270,271,272,273,274,275,276,277,278,279,280,281,282,283,284,285,286,287,288,289,290,291,292]},"axis":{"title":"Species","labels":false,"ticks":false,"domain":false,"grid":false,"titleFontSize":29,"titleFontWeight":"normal","titleColor":"black","titlePadding":15}},
"color":{"field":"v","type":"quantitative","title":"Mean observation count (log10)","scale":{"domain":[-0.3,0,0.3,0.65,1,1.5,2,2.4,3,3.5,4,4.37],"range":["#30004a","#36104e","#362460","#33306e","#2f3f74","#256479","#22807a","#219472","#4fb25d","#6cc944","#b9da2d","#fee31d"],"interpolate":"rgb"},"legend":{"type":"gradient","orient":"none","legendX":1805,"legendY":1350,"direction":"vertical","gradientLength":230,"gradientThickness":46,"gradientStrokeWidth":0,"values":[0,1,2,3,4],"labelFontSize":23.2,"labelColor":"black","labelOffset":14,"titleFontSize":29,"titleFontWeight":"normal","titleColor":"black","titleLimit":500,"titlePadding":14,"labelOverlap":false}}
}}
